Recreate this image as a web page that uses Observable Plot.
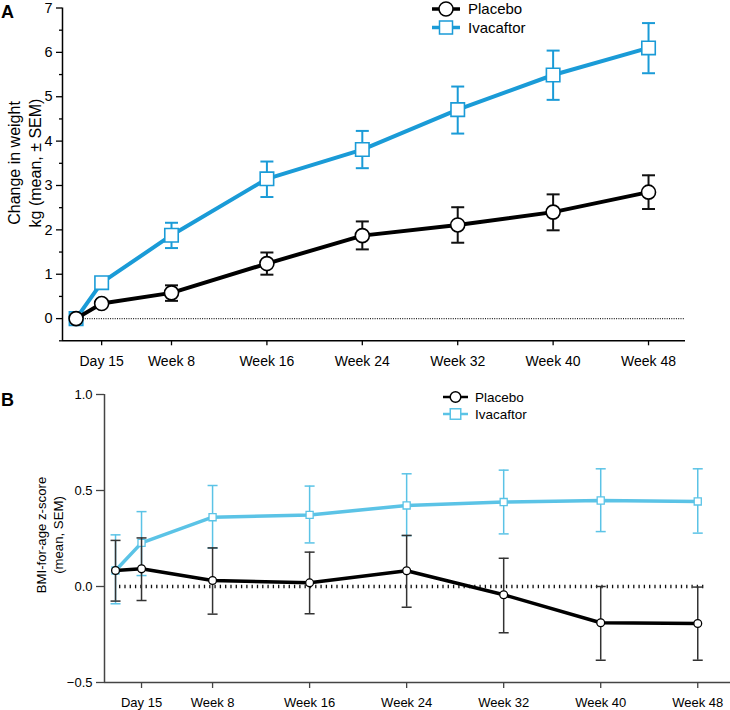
<!DOCTYPE html>
<html><head><meta charset="utf-8">
<script src="https://cdn.jsdelivr.net/npm/d3@7"></script>
<script src="https://cdn.jsdelivr.net/npm/@observablehq/plot@0.6"></script>
<style>
body{margin:0;background:#fff;font-family:"Liberation Sans",Arial,Helvetica,sans-serif;}
#wrap{position:relative;width:730px;height:710px;overflow:hidden;background:#fff}
#wrap > div{position:absolute;left:0}
#wrap svg{display:block}
#overlay{position:absolute;left:0;top:0;pointer-events:none}
</style></head>
<body><div id="wrap"><div id="pa" style="top:0"></div><div id="pb" style="top:372px"></div></div>
<script>
// ---------- data ----------
const weeks = [0, 15/7, 8, 16, 24, 32, 40, 48];          // Baseline, Day 15, Week 8 ... Week 48
const tickWeeks = [15/7, 8, 16, 24, 32, 40, 48];
const tickLabels = ["Day 15","Week 8","Week 16","Week 24","Week 32","Week 40","Week 48"];
const seriesNames = ["Placebo","Ivacaftor"];

// Panel A: change in weight, kg (mean ± SEM)
const weightPlacebo   = [0, 0.34, 0.58, 1.24, 1.87, 2.11, 2.40, 2.85];
const weightPlaceboLo = [0, 0.26, 0.40, 0.99, 1.56, 1.71, 1.99, 2.47];
const weightPlaceboHi = [0, 0.42, 0.75, 1.49, 2.19, 2.51, 2.80, 3.23];
const weightIva       = [0, 0.81, 1.88, 3.15, 3.81, 4.71, 5.49, 6.10];
const weightIvaLo     = [0, 0.70, 1.59, 2.74, 3.39, 4.17, 4.93, 5.53];
const weightIvaHi     = [0, 0.92, 2.16, 3.54, 4.23, 5.23, 6.04, 6.66];
const weightTicks      = [0, 1, 2, 3, 4, 5, 6, 7];
const weightMinorTicks = [-0.5, 0.5, 1.5, 2.5, 3.5, 4.5, 5.5, 6.5];

// Panel B: BMI-for-age z-score (mean, SEM)
const bmiPlacebo   = [0.083, 0.092, 0.031, 0.019, 0.082, -0.043, -0.189, -0.193];
const bmiPlaceboLo = [-0.076, -0.073, -0.144, -0.142, -0.108, -0.241, -0.384, -0.384];
const bmiPlaceboHi = [0.240, 0.253, 0.201, 0.179, 0.266, 0.147, 0.000, -0.003];
const bmiIva       = [0.083, 0.227, 0.361, 0.373, 0.422, 0.440, 0.448, 0.443];
const bmiIvaLo     = [-0.090, 0.057, 0.200, 0.227, 0.265, 0.274, 0.286, 0.278];
const bmiIvaHi     = [0.269, 0.390, 0.526, 0.523, 0.587, 0.606, 0.613, 0.613];
const bmiTicks = [-0.5, 0, 0.5, 1.0];

// ---------- helpers ----------
const FONT = '"Liberation Sans", Arial, Helvetica, sans-serif';
const BLUE_A = "#1a9bd7";
const BLUE_B = "#5bc3e6";
const rows = (v, lo, hi) => weeks.map((w, i) => ({week: w, v: v[i], lo: lo[i], hi: hi[i]}));
const labelOf = new Map(tickWeeks.map((w, i) => [w, tickLabels[i]]));
const cap = {draw(ctx, size) { const r = Math.sqrt(size / Math.PI); ctx.moveTo(-r, 0); ctx.lineTo(r, 0); }};

function seriesMarks(data, o) {
  return [
    Plot.ruleX(data, {x: "week", y1: "lo", y2: "hi", stroke: o.err, strokeWidth: o.errW}),
    Plot.dot(data, {x: "week", y: "lo", symbol: cap, r: o.capR, stroke: o.err, strokeWidth: o.errW, fill: "none"}),
    Plot.dot(data, {x: "week", y: "hi", symbol: cap, r: o.capR, stroke: o.err, strokeWidth: o.errW, fill: "none"}),
    Plot.line(data, {x: "week", y: "v", stroke: o.color, strokeWidth: o.lineW}),
    Plot.dot(data, {x: "week", y: "v", symbol: o.symbol, r: o.r, fill: "white", stroke: o.color, strokeWidth: o.dotW})
  ];
}

// ---------- Panel A ----------
const ivaA = rows(weightIva, weightIvaLo, weightIvaHi);
const plaA = rows(weightPlacebo, weightPlaceboLo, weightPlaceboHi);
const xA = [-1.14, 51.1];
const plotA = Plot.plot({
  width: 730, height: 372, marginTop: 7.5, marginBottom: 31.7, marginLeft: 62, marginRight: 45,
  x: {domain: xA}, y: {domain: [-0.5, 7]},
  style: {fontFamily: FONT, fontSize: "14px", color: "#000", background: "transparent", overflow: "visible"},
  marks: [
    Plot.ruleY([0], {x1: 0, x2: xA[1], stroke: "#222", strokeWidth: 1.4, strokeDasharray: "1,1.3"}),
    Plot.axisY({ticks: weightMinorTicks, tickSize: 3, tickFormat: () => "", label: null, strokeWidth: 1.3}),
    Plot.axisY({ticks: weightTicks, tickSize: 6, tickPadding: 4, fontSize: 14.5, label: null, strokeWidth: 1.3}),
    Plot.axisX({ticks: tickWeeks, tickSize: 5, tickPadding: 10, fontSize: 14, tickFormat: d => labelOf.get(d), label: null, strokeWidth: 1.3}),
    Plot.ruleX([xA[0]], {strokeWidth: 1.5}),
    Plot.ruleY([-0.5], {strokeWidth: 1.5}),
    ...seriesMarks(ivaA, {color: BLUE_A, err: BLUE_A, errW: 2, capR: 6.5, lineW: 4, symbol: "square", r: 7.6, dotW: 1.6}),
    ...seriesMarks(plaA, {color: "#000", err: "#111", errW: 2, capR: 6.5, lineW: 4, symbol: "circle", r: 7, dotW: 1.6})
  ]
});
document.getElementById("pa").appendChild(plotA);

// ---------- Panel B ----------
const ivaB = rows(bmiIva, bmiIvaLo, bmiIvaHi);
const plaB = rows(bmiPlacebo, bmiPlaceboLo, bmiPlaceboHi);
const xB = [-0.91, 50.7];
const plotB = Plot.plot({
  width: 730, height: 338, marginTop: 22, marginBottom: 28, marginLeft: 104, marginRight: 0,
  x: {domain: xB}, y: {domain: [-0.5, 1.0]},
  style: {fontFamily: FONT, fontSize: "13px", color: "#000", background: "transparent", overflow: "visible"},
  marks: [
    Plot.ruleY([0], {x1: 0.33, x2: 48.7, stroke: "#111", strokeWidth: 3.5, strokeDasharray: "1.3,4"}),
    Plot.axisY({ticks: bmiTicks, tickSize: 8, tickPadding: 4, tickFormat: d3.format(".1f"), label: null, stroke: "#444", strokeWidth: 1.3}),
    Plot.axisX({ticks: tickWeeks, tickSize: 6, tickPadding: 9, tickFormat: d => labelOf.get(d), label: null, stroke: "#444", strokeWidth: 1.3}),
    Plot.ruleX([xB[0]], {stroke: "#444", strokeWidth: 1.5}),
    Plot.ruleY([-0.5], {stroke: "#444", strokeWidth: 1.5}),
    ...seriesMarks(ivaB, {color: BLUE_B, err: BLUE_B, errW: 1.5, capR: 5, lineW: 3.5, symbol: "square", r: 4, dotW: 1.3}),
    ...seriesMarks(plaB, {color: "#000", err: "#333", errW: 1.5, capR: 5, lineW: 3.5, symbol: "circle", r: 3.9, dotW: 1.3})
  ]
});
document.getElementById("pb").appendChild(plotB);

// ---------- overlay: panel letters, axis titles, legends ----------
const ov = d3.select("#wrap").append("svg").attr("id", "overlay")
  .attr("width", 730).attr("height", 710).style("font-family", FONT);
ov.append("text").attr("x", 1).attr("y", 18).attr("font-size", 18).attr("font-weight", "bold").text("A");
ov.append("text").attr("x", 1).attr("y", 406).attr("font-size", 18).attr("font-weight", "bold").text("B");

function vtitle(lines, cx, cy, fs, gap) {
  lines.forEach((t, i) => {
    ov.append("text").attr("transform", `translate(${cx + i * gap},${cy}) rotate(-90)`)
      .attr("text-anchor", "middle").attr("dy", "0.35em").attr("font-size", fs).text(t);
  });
}
vtitle(["Change in weight", "kg (mean, \u00b1 SEM)"], 14, 163, 16, 21);
vtitle(["BMI-for-age z-score", "(mean, SEM)"], 41, 535, 13.2, 17);

function legend(x0, y0, dy, lw, rc, sq, fs, colors, lineW, tx) {
  seriesNames.forEach((name, i) => {
    const y = y0 + i * dy, c = colors[i], cx = x0 + lw / 2;
    ov.append("line").attr("x1", x0).attr("x2", x0 + lw).attr("y1", y).attr("y2", y)
      .attr("stroke", c).attr("stroke-width", lineW);
    if (i === 0) ov.append("circle").attr("cx", cx).attr("cy", y).attr("r", rc)
      .attr("fill", "white").attr("stroke", c).attr("stroke-width", 1.5);
    else ov.append("rect").attr("x", cx - sq / 2).attr("y", y - sq / 2).attr("width", sq).attr("height", sq)
      .attr("fill", "white").attr("stroke", c).attr("stroke-width", 1.5);
    ov.append("text").attr("x", tx).attr("y", y).attr("dy", "0.35em").attr("font-size", fs).text(name);
  });
}
legend(432, 9, 18.5, 28, 7, 13, 15, ["#000", BLUE_A], 3.5, 468);
legend(443, 397, 17, 25, 5.3, 10.5, 13.5, ["#000", BLUE_B], 2.5, 475);
</script>
</body></html>
